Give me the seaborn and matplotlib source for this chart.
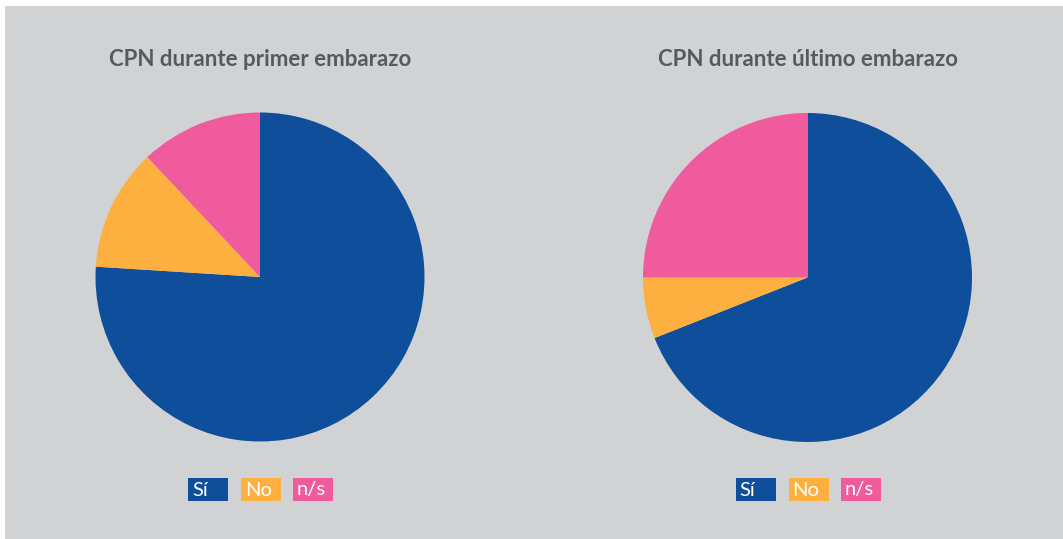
import matplotlib
matplotlib.use("Agg")
import matplotlib.pyplot as plt
from matplotlib.patches import Rectangle
import seaborn as sns

# Data
categories = ["Sí", "No", "n/s"]
primer_values = [76, 12, 12]
ultimo_values = [69, 6, 25]
titles = ["CPN durante primer embarazo", "CPN durante último embarazo"]

sns.set_theme(style="white")
plt.rcParams["font.family"] = ["Lato", "DejaVu Sans"]

palette = sns.color_palette(["#0e4e9b", "#fdb040", "#ef5b9c"])
bg = "#d1d2d4"
title_color = "#58595b"

W, H = 1063, 539
fig = plt.figure(figsize=(W / 100, H / 100), dpi=100, facecolor="white")

# gray panel
fig.patches.append(Rectangle((5 / W, 0), (W - 5) / W, (H - 6) / H,
                             transform=fig.transFigure, facecolor=bg,
                             edgecolor="none", zorder=-5))


def px_box(cx, cy, r):
    return [(cx - r) / W, (H - cy - r) / H, 2 * r / W, 2 * r / H]


centers = [(260, 277), (807.5, 277.5)]
radius = 164.5
for (cx, cy), vals, title in zip(centers, [primer_values, ultimo_values], titles):
    ax = fig.add_axes(px_box(cx, cy, radius))
    ax.set_zorder(2)
    ax.patch.set_alpha(0)
    ax.pie(vals, colors=palette, startangle=90, counterclock=False,
           radius=1, wedgeprops=dict(linewidth=0))
    ax.set_xlim(-1, 1)
    ax.set_ylim(-1, 1)
    ax.set_aspect("auto")
    ax.axis("off")
    fig.text(cx / W, 1 - 60 / H, title, ha="center", va="center",
             fontsize=16, fontweight="bold", color=title_color)

    # legend swatches with labels inside
    starts = [cx - 72, cx - 19, cx + 33]
    for x0, lab, col in zip(starts, categories, palette):
        fig.patches.append(Rectangle((x0 / W, 1 - 501 / H), 40 / W, 23 / H,
                                     transform=fig.transFigure, facecolor=col,
                                     edgecolor="none", zorder=2))
        fig.text((x0 + 4) / W, 1 - 490 / H, lab, ha="left", va="center",
                 fontsize=14.5, fontweight="normal", color="white", zorder=3)

fig.savefig("out.png", dpi=100, facecolor="white")
